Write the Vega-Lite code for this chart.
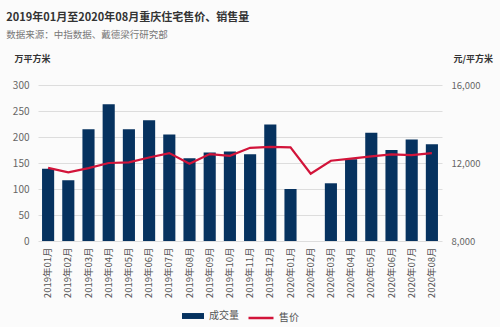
{
  "$schema": "https://vega.github.io/schema/vega-lite/v6.json",
  "width": 404,
  "height": 156,
  "autosize": {"type": "none"},
  "padding": {"left": 38, "top": 85, "right": 58, "bottom": 86},
  "background": "#fbfbfb",
  "config": {
    "font": "Noto Sans CJK SC",
    "view": {"stroke": null},
    "legend": {"layout": {"bottom": {"anchor": "middle", "direction": "horizontal", "margin": 8}}}
  },
  "title": {
    "text": "2019年01月至2020年08月重庆住宅售价、销售量",
    "subtitle": "数据来源：中指数据、戴德梁行研究部",
    "anchor": "start",
    "frame": "bounds",
    "fontSize": 11,
    "fontWeight": "bold",
    "color": "#333333",
    "subtitleFontSize": 9.5,
    "subtitleColor": "#777777",
    "subtitlePadding": 7,
    "dx": -6,
    "offset": 15
  },
  "data": {
    "values": [
      {"month": "2019年01月", "volume": 139, "price": 11750},
      {"month": "2019年02月", "volume": 117, "price": 11520},
      {"month": "2019年03月", "volume": 215, "price": 11740},
      {"month": "2019年04月", "volume": 263, "price": 12000},
      {"month": "2019年05月", "volume": 215, "price": 12030},
      {"month": "2019年06月", "volume": 232, "price": 12280},
      {"month": "2019年07月", "volume": 205, "price": 12510},
      {"month": "2019年08月", "volume": 159, "price": 11960},
      {"month": "2019年09月", "volume": 170, "price": 12460},
      {"month": "2019年10月", "volume": 172, "price": 12370},
      {"month": "2019年11月", "volume": 167, "price": 12780},
      {"month": "2019年12月", "volume": 224, "price": 12830},
      {"month": "2020年01月", "volume": 100, "price": 12800},
      {"month": "2020年02月", "volume": null, "price": 11450},
      {"month": "2020年03月", "volume": 111, "price": 12115},
      {"month": "2020年04月", "volume": 157, "price": 12220},
      {"month": "2020年05月", "volume": 208, "price": 12340},
      {"month": "2020年06月", "volume": 175, "price": 12440},
      {"month": "2020年07月", "volume": 195, "price": 12400},
      {"month": "2020年08月", "volume": 186, "price": 12510}
    ]
  },
  "encoding": {
    "x": {
      "field": "month",
      "type": "ordinal",
      "sort": ["2019年01月", "2019年02月", "2019年03月", "2019年04月", "2019年05月", "2019年06月", "2019年07月", "2019年08月", "2019年09月", "2019年10月", "2019年11月", "2019年12月", "2020年01月", "2020年02月", "2020年03月", "2020年04月", "2020年05月", "2020年06月", "2020年07月", "2020年08月"],
      "scale": {"paddingInner": 0.4, "paddingOuter": 0.2},
      "axis": {
        "title": null,
        "labelAngle": -90,
        "labelAlign": "right",
        "labelBaseline": "middle",
        "labelFontSize": 9.5,
        "labelColor": "#555555",
        "labelPadding": 6,
        "ticks": false,
        "domain": false
      }
    }
  },
  "layer": [
    {
      "mark": {"type": "bar"},
      "encoding": {
        "y": {
          "field": "volume",
          "type": "quantitative",
          "scale": {"domain": [0, 300]},
          "axis": {
            "title": "万平方米",
            "titleAngle": 0,
            "titleAlign": "left",
            "titleBaseline": "bottom",
            "titleX": -24,
            "titleY": -22,
            "titleFontSize": 9,
            "titleFontWeight": "bold",
            "titleColor": "#333333",
            "values": [0, 50, 100, 150, 200, 250, 300],
            "labelFontSize": 10,
            "labelColor": "#666666",
            "labelPadding": 9,
            "ticks": false,
            "domain": false,
            "gridColor": "#dddddd"
          }
        },
        "fill": {
          "datum": "成交量",
          "type": "nominal",
          "scale": {"range": ["#06325f"]},
          "legend": {
            "title": null,
            "symbolType": "M-1,-0.27H1V0.27H-1Z",
            "symbolSize": 484,
            "labelFontSize": 10,
            "labelColor": "#555555",
            "orient": "bottom",
            "offset": 6
          }
        }
      }
    },
    {
      "mark": {"type": "line", "strokeWidth": 2.2},
      "encoding": {
        "y": {
          "field": "price",
          "type": "quantitative",
          "scale": {"domain": [8000, 16000]},
          "axis": {
            "orient": "right",
            "title": "元/平方米",
            "titleAngle": 0,
            "titleAlign": "left",
            "titleBaseline": "bottom",
            "titleX": 11,
            "titleY": -22,
            "titleFontSize": 9,
            "titleFontWeight": "bold",
            "titleColor": "#333333",
            "values": [8000, 12000, 16000],
            "format": ",.0f",
            "labelFontSize": 9.5,
            "labelColor": "#666666",
            "labelPadding": 9,
            "ticks": false,
            "domain": false,
            "grid": false
          }
        },
        "stroke": {
          "datum": "售价",
          "type": "nominal",
          "scale": {"range": ["#d2143a"]},
          "legend": {
            "title": null,
            "symbolType": "stroke",
            "symbolSize": 625,
            "symbolStrokeWidth": 2.5,
            "labelFontSize": 10,
            "labelColor": "#555555",
            "orient": "bottom",
            "offset": 6
          }
        }
      }
    }
  ],
  "resolve": {"scale": {"y": "independent"}}
}
